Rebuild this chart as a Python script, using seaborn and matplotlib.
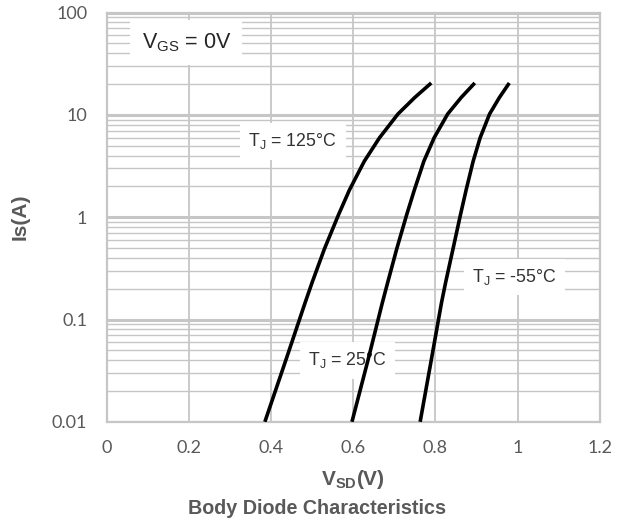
import numpy as np
import pandas as pd
import matplotlib
matplotlib.use("Agg")
import matplotlib.pyplot as plt
import seaborn as sns
from matplotlib.ticker import LogLocator, FixedLocator, NullFormatter

# Curves: Vsd (V) vs Is (A)
is_pts = [0.01, 0.04, 0.146, 0.23, 0.49, 1.05, 1.85, 3.52, 5.97, 10.2, 14.8, 20.5]
vsd_125 = [0.385, 0.436, 0.483, 0.500, 0.530, 0.564, 0.591, 0.627, 0.664, 0.709, 0.750, 0.790]
vsd_25 = [0.597, 0.636, 0.671, 0.684, 0.706, 0.730, 0.749, 0.772, 0.797, 0.830, 0.863, 0.896]
vsd_m55 = [0.763, 0.790, 0.815, 0.825, 0.843, 0.861, 0.875, 0.892, 0.909, 0.932, 0.956, 0.980]

x_ticks = [0, 0.2, 0.4, 0.6, 0.8, 1.0, 1.2]
x_ticklabels = ["0", "0.2", "0.4", "0.6", "0.8", "1", "1.2"]
y_ticks = [0.01, 0.1, 1, 10, 100]
y_ticklabels = ["0.01", "0.1", "1", "10", "100"]

sns.set_style("white")
plt.rcParams['font.family'] = ['Liberation Sans', 'DejaVu Sans']
plt.rcParams['mathtext.fontset'] = 'custom'
plt.rcParams['mathtext.rm'] = 'Liberation Sans'
plt.rcParams['mathtext.bf'] = 'Liberation Sans:bold'

gray_txt = '#595959'
grid_c = '#c6c6c6'

fig = plt.figure(figsize=(6.24, 5.24), dpi=100)
ax = fig.add_axes([0.171, 0.195, 0.790, 0.781])

df = pd.concat([
    pd.DataFrame({'Vsd': vsd_125, 'Is': is_pts, 'Tj': '125'}),
    pd.DataFrame({'Vsd': vsd_25, 'Is': is_pts, 'Tj': '25'}),
    pd.DataFrame({'Vsd': vsd_m55, 'Is': is_pts, 'Tj': '-55'}),
])
sns.lineplot(data=df, x='Vsd', y='Is', hue='Tj', palette=['black'] * 3,
             sort=False, linewidth=2.6, legend=False, ax=ax, zorder=5)
for ln in ax.lines:
    ln.set_solid_joinstyle('round')
    ln.set_solid_capstyle('butt')

ax.set_yscale('log')
ax.set_xlim(0, 1.2)
ax.set_ylim(0.01, 100)

ax.xaxis.set_major_locator(FixedLocator(x_ticks))
ax.set_xticklabels(x_ticklabels, family=['Lato', 'DejaVu Sans'])
ax.yaxis.set_major_locator(FixedLocator(y_ticks))
ax.set_yticklabels(y_ticklabels, family=['Lato', 'DejaVu Sans'])
ax.yaxis.set_minor_locator(LogLocator(base=10, subs=np.arange(2, 10)))
ax.yaxis.set_minor_formatter(NullFormatter())

ax.grid(True, which='major', axis='x', color=grid_c, linewidth=1.3)
ax.grid(True, which='major', axis='y', color=grid_c, linewidth=2.2)
ax.grid(True, which='minor', axis='y', color=grid_c, linewidth=1.0)
ax.set_axisbelow(True)
ax.tick_params(axis='both', which='both', length=0, colors=gray_txt, labelsize=13)
ax.tick_params(axis='x', pad=13)
ax.tick_params(axis='y', pad=14)
for s in ax.spines.values():
    s.set_color(grid_c)
    s.set_linewidth(1.6)

ax.set_xlabel(r'$\mathbf{V}_{\mathbf{SD}}\mathbf{(V)}$', color=gray_txt, fontsize=15, labelpad=9)
ax.set_ylabel('Is(A)', color=gray_txt, fontsize=15, fontweight='bold', labelpad=16)
fig.text(0.508, 0.030, 'Body Diode Characteristics', ha='center', va='center',
         color=gray_txt, fontsize=14.2, fontweight='bold')

box = dict(facecolor='white', edgecolor='none', pad=6)
ax.text(0.085, 51, r'V$_{\mathrm{GS}}$ = 0V', fontsize=15.5, va='center', ha='left',
        color='#262626', bbox=dict(facecolor='white', edgecolor='none', pad=8), zorder=3)
ax.text(0.345, 5.5, r'T$_{\mathrm{J}}$ = 125°C', fontsize=12.8, va='center', ha='left',
        color='#333333', bbox=box, zorder=3)
ax.text(0.89, 0.26, r'T$_{\mathrm{J}}$ = -55°C', fontsize=12.8, va='center', ha='left',
        color='#333333', bbox=box, zorder=3)
ax.text(0.49, 0.04, r'T$_{\mathrm{J}}$ = 25°C', fontsize=12.8, va='center', ha='left',
        color='#333333', bbox=box, zorder=3)

fig.savefig('out.png', dpi=100)
